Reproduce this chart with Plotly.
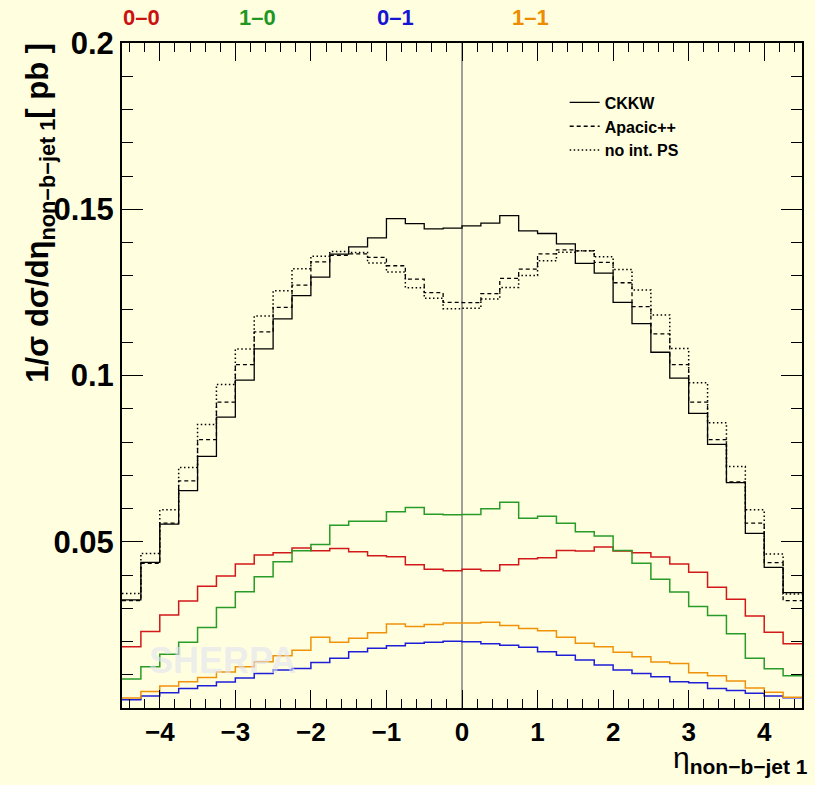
import plotly.graph_objects as go

# ---- data ----
eta_min = -4.5
bin_width = 0.25
n_bins = 36
bin_edges = [eta_min + bin_width * i for i in range(n_bins + 1)]

ckkw = [0.0325, 0.0438, 0.0553, 0.0654, 0.0757, 0.0875, 0.0986, 0.1080, 0.1170, 0.1240, 0.1296, 0.1365,
        0.1387, 0.1414, 0.1472, 0.1457, 0.1441, 0.1443, 0.1450, 0.1458, 0.1481, 0.1435, 0.1427, 0.1396,
        0.1337, 0.1308, 0.1220, 0.1156, 0.1070, 0.0992, 0.0886, 0.0793, 0.0678, 0.0525, 0.0423, 0.0347]
apacic = [0.0323, 0.0435, 0.0556, 0.0683, 0.0807, 0.0920, 0.1033, 0.1131, 0.1205, 0.1272, 0.1342, 0.1361,
          0.1366, 0.1355, 0.1330, 0.1290, 0.1249, 0.1220, 0.1219, 0.1246, 0.1292, 0.1320, 0.1366, 0.1378,
          0.1375, 0.1340, 0.1279, 0.1207, 0.1125, 0.1033, 0.0920, 0.0807, 0.0680, 0.0556, 0.0437, 0.0323]
no_int_ps = [0.0344, 0.0465, 0.0596, 0.0723, 0.0853, 0.0973, 0.1080, 0.1179, 0.1255, 0.1321, 0.1359, 0.1373,
             0.1370, 0.1338, 0.1311, 0.1264, 0.1232, 0.1201, 0.1202, 0.1230, 0.1265, 0.1301, 0.1345, 0.1371,
             0.1375, 0.1357, 0.1319, 0.1257, 0.1182, 0.1081, 0.0978, 0.0858, 0.0726, 0.0596, 0.0463, 0.0343]
jet_00 = [0.0184, 0.0230, 0.0280, 0.0322, 0.0366, 0.0397, 0.0433, 0.0460, 0.0467, 0.0481, 0.0473, 0.0480,
          0.0470, 0.0458, 0.0455, 0.0431, 0.0417, 0.0413, 0.0417, 0.0413, 0.0431, 0.0449, 0.0452, 0.0474,
          0.0472, 0.0484, 0.0472, 0.0467, 0.0454, 0.0433, 0.0408, 0.0363, 0.0327, 0.0277, 0.0228, 0.0193]
jet_10 = [0.0087, 0.0124, 0.0162, 0.0198, 0.0242, 0.0302, 0.0350, 0.0395, 0.0440, 0.0473, 0.0492, 0.0550,
          0.0562, 0.0562, 0.0590, 0.0603, 0.0583, 0.0581, 0.0582, 0.0599, 0.0619, 0.0571, 0.0577, 0.0556,
          0.0530, 0.0517, 0.0474, 0.0435, 0.0387, 0.0349, 0.0305, 0.0278, 0.0223, 0.0150, 0.0118, 0.0097]
jet_01 = [0.0025, 0.0036, 0.0046, 0.0059, 0.0067, 0.0078, 0.0090, 0.0104, 0.0114, 0.0119, 0.0137, 0.0150,
          0.0169, 0.0180, 0.0187, 0.0195, 0.0198, 0.0201, 0.0199, 0.0193, 0.0189, 0.0183, 0.0169, 0.0159,
          0.0144, 0.0129, 0.0114, 0.0104, 0.0094, 0.0079, 0.0076, 0.0059, 0.0053, 0.0044, 0.0036, 0.0031]
jet_11 = [0.0030, 0.0050, 0.0066, 0.0079, 0.0092, 0.0108, 0.0124, 0.0139, 0.0157, 0.0174, 0.0213, 0.0198,
          0.0210, 0.0226, 0.0253, 0.0245, 0.0251, 0.0256, 0.0256, 0.0258, 0.0248, 0.0239, 0.0232, 0.0213,
          0.0195, 0.0184, 0.0168, 0.0154, 0.0138, 0.0134, 0.0106, 0.0097, 0.0081, 0.0060, 0.0047, 0.0032]

y_tickvals = [0.05, 0.1, 0.15, 0.2]
y_ticktext = ["0.05", "0.1", "0.15", "0.2"]

top_labels = ["0\u20130", "1\u20130", "0\u20131", "1\u20131"]
top_colors = ["rgb(204,17,17)", "rgb(34,150,34)", "rgb(20,20,210)", "rgb(238,140,0)"]

BG = "rgb(255,255,224)"
FONT = "Liberation Sans, Arial, Helvetica, sans-serif"

fig = go.Figure()


def add_hist(vals, color, dash="solid", width=1.5, name=None, legend=False):
    fig.add_trace(go.Scatter(
        x=bin_edges, y=list(vals) + [vals[-1]], mode="lines", line_shape="hv",
        line=dict(color=color, width=width, dash=dash), name=name, showlegend=legend,
        hoverinfo="skip"))


add_hist(jet_00, "rgb(210,25,25)")
add_hist(jet_10, "rgb(40,155,40)")
add_hist(jet_01, "rgb(30,30,215)")
add_hist(jet_11, "rgb(240,145,10)")
add_hist(ckkw, "black", "solid", 1.3, "CKKW", True)
add_hist(apacic, "black", "4px,3px", 1.3, "Apacic++", True)
add_hist(no_int_ps, "black", "1.5px,2.5px", 1.5, "no int. PS", True)

fig.add_vline(x=0, line=dict(color="rgb(128,128,128)", width=1.5), layer="below")

annotations = []
top_x = [0.0293, 0.1994, 0.4018, 0.6012]
for lab, col, xp in zip(top_labels, top_colors, top_x):
    annotations.append(dict(text=lab, x=xp, y=1.0376, xref="paper", yref="paper",
                            showarrow=False, xanchor="center", yanchor="middle",
                            font=dict(family=FONT, size=22, color=col, weight="bold")))

annotations.append(dict(
    text="1/\u03c3 d\u03c3/d\u03b7<sub>non\u2212b\u2212jet 1</sub>[ pb ]",
    x=-0.12, y=1.004, xref="paper", yref="paper", showarrow=False,
    textangle=-90, xanchor="center", yanchor="top",
    font=dict(family=FONT, size=31, color="black", weight="bold")))

annotations.append(dict(
    text="\u03b7<sub><b>non\u2212b\u2212jet 1</b></sub>",
    x=1.012, y=-0.047, xref="paper", yref="paper", showarrow=False,
    xanchor="right", yanchor="top",
    font=dict(family=FONT, size=30, color="black", weight="normal")))

annotations.append(dict(
    text="SHERPA", x=0.148, y=0.072, xref="paper", yref="paper", showarrow=False,
    xanchor="center", yanchor="middle",
    font=dict(family=FONT, size=36, color="rgba(225,225,240,0.6)", weight="bold")))

fig.update_layout(
    width=815, height=785,
    margin=dict(l=122, r=11, t=43, b=77),
    paper_bgcolor=BG, plot_bgcolor=BG,
    font=dict(family=FONT, color="black"),
    annotations=annotations,
    showlegend=True,
    legend=dict(x=0.651, y=0.936, xanchor="left", yanchor="top",
                bgcolor="rgba(0,0,0,0)", borderwidth=0,
                font=dict(family=FONT, size=16, color="black", weight="bold"),
                tracegroupgap=0),
    xaxis=dict(range=[-4.5, 4.5], tickmode="linear", tick0=0, dtick=1,
               showgrid=False, zeroline=False,
               showline=True, linecolor="black", linewidth=2, mirror="allticks",
               ticks="inside", ticklen=18, tickwidth=1.2, tickcolor="black",
               minor=dict(tickmode="linear", tick0=0, dtick=0.2, ticks="inside",
                          ticklen=9, tickwidth=1.2, tickcolor="black", showgrid=False),
               tickfont=dict(family=FONT, size=26, color="black", weight="bold")),
    yaxis=dict(range=[0, 0.2], tickmode="array", tickvals=y_tickvals, ticktext=y_ticktext,
               showgrid=False, zeroline=False,
               showline=True, linecolor="black", linewidth=2, mirror="allticks",
               ticks="inside", ticklen=21, tickwidth=1.2, tickcolor="black",
               minor=dict(tickmode="linear", tick0=0, dtick=0.01, ticks="inside",
                          ticklen=11, tickwidth=1.2, tickcolor="black", showgrid=False),
               tickfont=dict(family=FONT, size=31, color="black", weight="bold")),
)

fig.write_html(
    "out.html",
    config={"displayModeBar": False},
    post_script="document.body.style.margin='0';document.body.style.padding='0';"
                "document.body.style.overflow='hidden';"
                "document.body.style.background='rgb(255,255,224)';")
